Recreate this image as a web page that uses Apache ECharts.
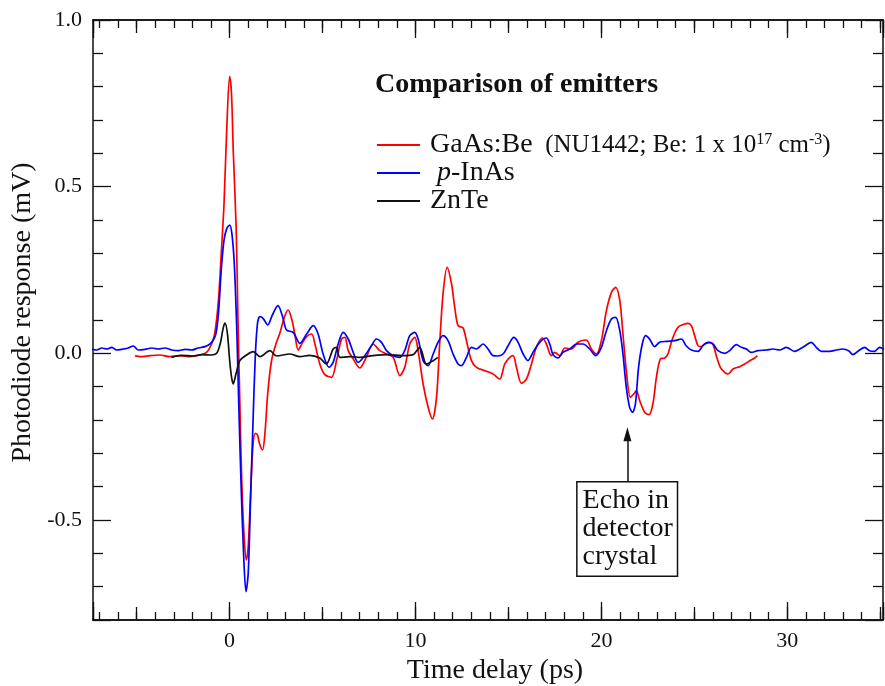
<!DOCTYPE html>
<html><head><meta charset="utf-8">
<script src="https://cdn.jsdelivr.net/npm/echarts@6/dist/echarts.min.js"></script>
<style>html,body{margin:0;padding:0;background:#fff}#c{width:885px;height:686px}</style>
</head><body><div id="c"></div>
<script>
// ---- axis ranges and ticks ----
const xRange = [-7.35, 35.15];
const yRange = [-0.8, 1.0];
const xMajorStep = 10, xMidStep = 5, xMinorSplit = 10;
const yMajorStep = 0.5, yMinorSplit = 5;

// ---- series names ----
const seriesNames = ['GaAs:Be', 'p-InAs', 'ZnTe'];

// ---- data: [time delay (ps), photodiode response (mV)] ----
const gaasBe = [[-5.09,-0.007],[-4.82,-0.010],[-4.28,-0.007],[-3.75,-0.005],[-3.21,-0.010],[-2.67,-0.007],[-2.13,-0.010],[-1.60,-0.005],[-1.24,0.003],[-0.97,0.028],[-0.8,0.06],[-0.6,0.16],[-0.45,0.3],[-0.3,0.45],[-0.15,0.68],[0.0,0.83],[0.1,0.78],[0.2,0.6],[0.35,0.38],[0.45,0.1],[0.55,-0.15],[0.65,-0.38],[0.78,-0.55],[0.9,-0.62],[1.0,-0.58],[1.12,-0.43],[1.25,-0.28],[1.38,-0.24],[1.5,-0.245],[1.6,-0.27],[1.77,-0.29],[1.9,-0.24],[2.05,-0.12],[2.26,-0.02],[2.5,0.03],[2.7,0.06],[2.95,0.11],[3.15,0.13],[3.35,0.1],[3.5,0.06],[3.69,0.01],[3.9,0.03],[4.14,0.05],[4.41,0.058],[4.59,0.028],[4.85,-0.032],[5.12,-0.064],[5.48,-0.072],[5.75,-0.022],[6.02,0.043],[6.2,0.048],[6.38,0.008],[6.65,-0.017],[7.0,-0.044],[7.35,-0.012],[7.72,0.028],[8.08,0.008],[8.44,-0.002],[8.8,-0.012],[9.16,-0.067],[9.42,-0.042],[9.69,0.028],[9.96,0.048],[10.14,0.008],[10.41,-0.092],[10.68,-0.162],[10.91,-0.197],[11.13,-0.132],[11.3,0.028],[11.48,0.178],[11.7,0.258],[11.94,0.208],[12.11,0.138],[12.29,0.083],[12.56,0.076],[12.74,0.038],[13.01,-0.022],[13.28,-0.042],[13.82,-0.054],[14.17,-0.062],[14.53,-0.077],[14.8,-0.032],[15.07,-0.012],[15.25,-0.007],[15.43,-0.042],[15.7,-0.09],[15.97,-0.077],[16.24,-0.032],[16.5,0.018],[16.83,0.046],[17.04,0.028],[17.31,-0.007],[17.49,0.003],[17.76,-0.007],[18.03,0.016],[18.39,0.013],[18.74,0.033],[19.19,0.04],[19.46,0.013],[19.73,-0.002],[20.0,0.038],[20.27,0.128],[20.54,0.183],[20.77,0.198],[20.99,0.158],[21.16,0.058],[21.34,-0.052],[21.56,-0.132],[21.74,-0.122],[21.88,-0.112],[22.06,-0.142],[22.33,-0.177],[22.56,-0.184],[22.77,-0.152],[22.96,-0.072],[23.17,-0.017],[23.4,-0.014],[23.58,-0.002],[23.82,0.043],[24.12,0.078],[24.48,0.088],[24.66,0.09],[24.84,0.083],[25.02,0.053],[25.2,0.023],[25.38,0.02],[25.55,0.028],[25.82,0.033],[26.0,0.028],[26.18,-0.007],[26.4,-0.042],[26.63,-0.057],[26.81,-0.062],[27.08,-0.047],[27.44,-0.04],[27.71,-0.032],[27.98,-0.022],[28.25,-0.014],[28.39,-0.007]];

const pInAs = [[-7.42,0.013],[-7.15,0.010],[-6.88,0.016],[-6.61,0.013],[-6.34,0.018],[-6.08,0.010],[-5.72,0.013],[-5.45,0.016],[-5.18,0.022],[-4.91,0.010],[-4.55,0.012],[-4.19,0.016],[-3.84,0.013],[-3.48,0.016],[-3.12,0.010],[-2.76,0.008],[-2.40,0.012],[-2.04,0.010],[-1.69,0.016],[-1.33,0.020],[-1.06,0.028],[-0.88,0.040],[-0.74,0.058],[-0.6,0.12],[-0.45,0.25],[-0.3,0.34],[-0.15,0.375],[0.0,0.385],[0.12,0.36],[0.25,0.27],[0.38,0.08],[0.5,-0.17],[0.62,-0.40],[0.75,-0.60],[0.88,-0.715],[1.0,-0.66],[1.12,-0.45],[1.25,-0.22],[1.38,-0.01],[1.5,0.09],[1.63,0.11],[1.8,0.105],[2.05,0.085],[2.3,0.115],[2.6,0.143],[2.85,0.11],[3.06,0.07],[3.42,0.063],[3.78,0.03],[4.14,0.058],[4.5,0.083],[4.76,0.058],[5.03,-0.002],[5.35,-0.042],[5.57,-0.027],[5.84,0.028],[6.11,0.063],[6.38,0.043],[6.65,0.003],[6.91,-0.027],[7.27,-0.007],[7.63,0.023],[7.9,0.043],[8.17,0.033],[8.44,0.008],[8.8,-0.007],[9.16,-0.012],[9.42,0.008],[9.69,0.053],[9.96,0.063],[10.14,0.043],[10.41,-0.022],[10.68,-0.037],[10.95,-0.002],[11.21,0.033],[11.48,0.053],[11.75,0.038],[12.02,-0.002],[12.29,-0.032],[12.47,-0.037],[12.74,-0.012],[13.01,0.018],[13.28,0.013],[13.63,0.028],[13.9,0.013],[14.17,-0.007],[14.4,-0.008],[14.71,-0.002],[14.98,0.023],[15.29,0.048],[15.52,0.033],[15.79,-0.002],[16.05,-0.022],[16.32,0.003],[16.68,0.033],[17.04,0.046],[17.22,0.028],[17.4,-0.004],[17.67,-0.014],[17.93,0.003],[18.3,0.013],[18.66,0.028],[19.01,0.028],[19.37,0.013],[19.69,-0.007],[20.0,0.018],[20.27,0.068],[20.54,0.103],[20.77,0.108],[20.99,0.068],[21.16,-0.002],[21.34,-0.102],[21.52,-0.162],[21.67,-0.177],[21.83,-0.152],[22.0,-0.042],[22.2,0.028],[22.38,0.053],[22.59,0.043],[22.86,0.02],[23.13,0.033],[23.49,0.036],[23.94,0.038],[24.3,0.043],[24.57,0.022],[24.84,0.01],[25.2,0.006],[25.46,0.023],[25.73,0.033],[26.0,0.028],[26.27,0.008],[26.63,0.0],[26.9,0.008],[27.26,0.026],[27.53,0.018],[27.8,0.013],[28.06,0.003],[28.42,0.008],[28.87,0.01],[29.23,0.013],[29.59,0.01],[29.95,0.018],[30.39,0.006],[30.84,0.018],[31.29,0.033],[31.56,0.018],[31.83,0.006],[32.28,0.006],[32.63,0.01],[32.99,0.013],[33.3,0.008],[33.53,-0.004],[33.89,0.01],[34.16,0.018],[34.43,0.008],[34.7,0.006],[34.97,0.018],[35.2,0.013]];

const znTe = [[-3.12,-0.012],[-2.6,-0.006],[-2.0,-0.008],[-1.5,-0.004],[-1.0,-0.005],[-0.7,0.0],[-0.5,0.03],[-0.35,0.075],[-0.25,0.091],[-0.12,0.06],[0.0,-0.02],[0.1,-0.07],[0.19,-0.092],[0.35,-0.06],[0.55,-0.022],[0.91,-0.005],[1.27,0.005],[1.63,-0.01],[2.17,0.008],[2.52,-0.008],[3.24,-0.002],[3.78,-0.01],[4.3,-0.006],[4.85,-0.014],[5.2,-0.032],[5.57,0.013],[5.75,0.018],[5.93,-0.012],[6.5,-0.01],[7.0,-0.012],[7.7,-0.007],[8.5,-0.004],[9.3,-0.007],[9.87,-0.004],[10.23,0.018],[10.59,-0.032],[10.95,-0.022],[11.2,-0.012]];

// ---- annotation (data coordinates) ----
const echoArrowFrom = [21.4, -0.385];
const echoArrowTo = [21.4, -0.243];
const echoBoxAnchor = [18.72, -0.527];   // left-middle of the text box
const echoLines = ['Echo in', 'detector', 'crystal'];
const titleText = 'Comparison of emitters';

// ---- styles ----
const FONT = 'Liberation Serif';
const INK = '#111';
const colors = ['#ff0000', '#0000ff', '#111111'];

const chart = echarts.init(document.getElementById('c'), null, {renderer: 'canvas'});

function isMult(v, step) { const r = v / step; return Math.abs(r - Math.round(r)) < 1e-6; }

function xAxisDef(pos, step, tickLen, withLabels, minor) {
  const a = {
    type: 'value', position: pos, min: xRange[0], max: xRange[1],
    minInterval: step, maxInterval: step, splitNumber: Math.round((xRange[1]-xRange[0])/step),
    axisLine: {show: true, onZero: false, lineStyle: {color: INK, width: 1.5}},
    axisTick: {show: true, inside: true, length: tickLen, lineStyle: {color: INK, width: 1.3}},
    minorTick: {show: !!minor, splitNumber: xMinorSplit, length: 8, lineStyle: {color: INK, width: 1.3}},
    splitLine: {show: false}, minorSplitLine: {show: false},
    axisLabel: {show: withLabels, margin: 10, fontFamily: FONT, fontSize: 22, color: INK,
      formatter: v => isMult(v, xMajorStep) ? String(Math.round(v)) : ''},
  };
  if (withLabels) {
    a.name = 'Time delay (ps)';
    a.nameLocation = 'middle';
    a.nameGap = 34;
    a.nameTextStyle = {fontFamily: FONT, fontSize: 28, color: INK, padding: [0, 0, 0, 14]};
  }
  return a;
}
function yAxisDef(pos, withLabels) {
  const a = {
    type: 'value', position: pos, min: yRange[0], max: yRange[1],
    minInterval: yMajorStep, maxInterval: yMajorStep,
    axisLine: {show: true, onZero: false, lineStyle: {color: INK, width: 1.5}},
    axisTick: {show: true, inside: true, length: 18, lineStyle: {color: INK, width: 1.3}},
    minorTick: {show: true, splitNumber: yMinorSplit, length: 10, lineStyle: {color: INK, width: 1.3}},
    splitLine: {show: false}, minorSplitLine: {show: false},
    axisLabel: {show: withLabels, margin: 11, fontFamily: FONT, fontSize: 22, color: INK,
      formatter: v => isMult(v, yMajorStep) ? v.toFixed(1) : ''},
  };
  if (withLabels) {
    a.name = 'Photodiode response (mV)';
    a.nameLocation = 'middle';
    a.nameGap = 54;
    a.nameTextStyle = {fontFamily: FONT, fontSize: 28, color: INK, padding: [0, 0, 0, 15]};
  }
  return a;
}

const lineSeries = [gaasBe, pInAs, znTe].map((d, i) => ({
  type: 'line', name: seriesNames[i], data: d,
  xAxisIndex: 0, yAxisIndex: 0,
  symbol: 'none', smooth: 0.3, clip: true,
  lineStyle: {color: colors[i], width: 1.7},
  itemStyle: {color: colors[i]},
  z: 3 + i
}));

// annotation arrow + box attached to the ZnTe series
lineSeries[2].markLine = {
  silent: true, animation: false,
  symbol: ['none', 'triangle'],
  lineStyle: {color: INK, width: 1.5, type: 'solid'},
  label: {show: false},
  data: [[{coord: echoArrowFrom, symbol: 'none'}, {coord: echoArrowTo, symbol: 'triangle', symbolSize: [8, 14]}]]
};
lineSeries[2].markPoint = {
  silent: true, animation: false,
  symbol: 'circle', symbolSize: 1, itemStyle: {color: 'rgba(0,0,0,0)'},
  label: {
    show: true, position: 'inside', align: 'left', verticalAlign: 'middle',
    formatter: echoLines.join('\n'),
    fontFamily: FONT, fontSize: 28, lineHeight: 28, color: INK,
    backgroundColor: '#fff', borderColor: INK, borderWidth: 1.5, padding: [4, 4, 5, 5]
  },
  data: [{coord: echoBoxAnchor}]
};

const legendRich = {
  m: {fontFamily: FONT, fontSize: 28, lineHeight: 27, color: INK},
  i: {fontFamily: FONT, fontSize: 28, lineHeight: 27, color: INK, fontStyle: 'italic'},
  s: {fontFamily: FONT, fontSize: 25, lineHeight: 27, color: INK},
  sup: {fontFamily: FONT, fontSize: 16, lineHeight: 14, color: INK, verticalAlign: 'top'}
};
function legendLabel(name) {
  if (name === seriesNames[0]) return '{m|GaAs:Be}{s|  (NU1442; Be: 1 x 10}{sup|17}{s| cm}{sup|-3}{s|)}';
  if (name === seriesNames[1]) return '{m| }{i|p}{m|-InAs}';
  return '{m|ZnTe}';
}

chart.setOption({
  animation: false,
  backgroundColor: '#fff',
  grid: {left: 93, right: 2, top: 20, bottom: 66, containLabel: false, outerBoundsMode: 'none'},
  title: {text: titleText, left: 375, top: 71, padding: 0,
    textStyle: {fontFamily: FONT, fontSize: 28, fontWeight: 'bold', color: INK}},
  legend: {
    orient: 'vertical', left: 376, top: 131, padding: 0,
    itemWidth: 43, itemHeight: 2, itemGap: 0,
    data: seriesNames, formatter: legendLabel,
    textStyle: {fontFamily: FONT, fontSize: 28, color: INK, padding: [0, 0, 0, 5], rich: legendRich}
  },
  xAxis: [
    xAxisDef('bottom', xMajorStep, 18, true, true),
    xAxisDef('bottom', xMidStep, 13, false, false),
    xAxisDef('top', xMajorStep, 18, false, true),
    xAxisDef('top', xMidStep, 13, false, false)
  ],
  yAxis: [yAxisDef('left', true), yAxisDef('right', false)],
  series: lineSeries
});
</script></body></html>
